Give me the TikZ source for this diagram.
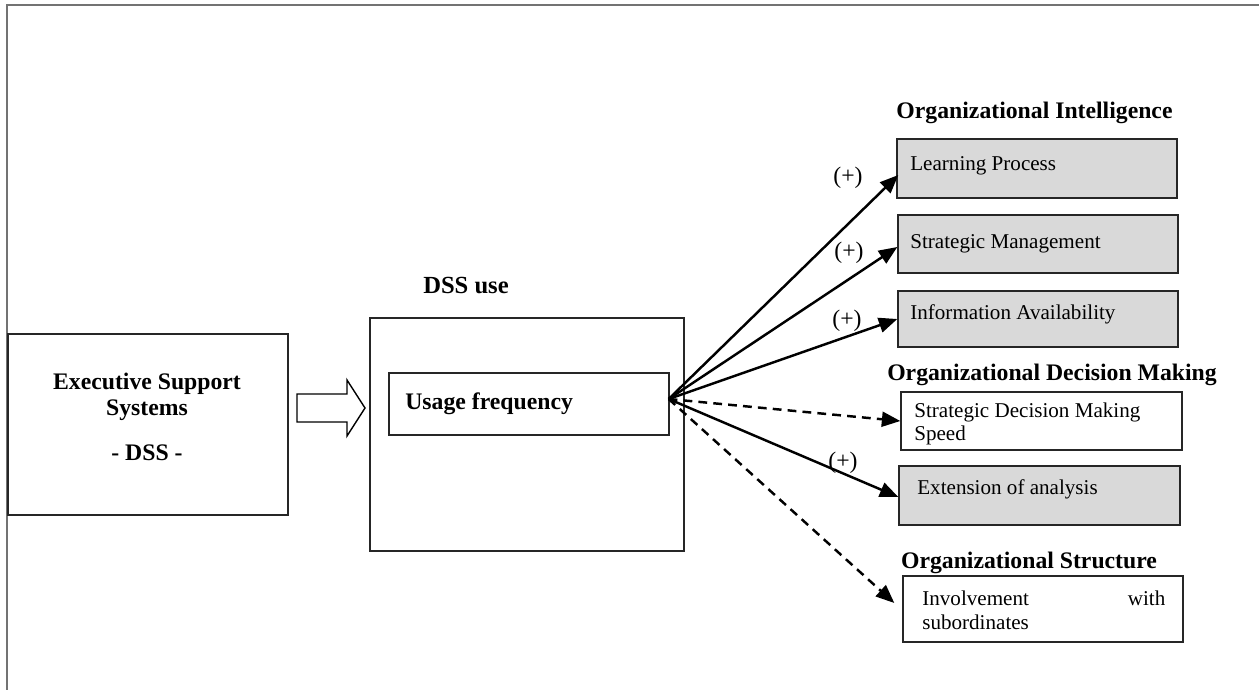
\documentclass[tikz,border=0pt]{standalone}
\usepackage{fontspec}
\setmainfont{Liberation Serif}
\usetikzlibrary{arrows.meta,calc}
\begin{document}
\begin{tikzpicture}[x=0.02cm,y=-0.02cm,
  box/.style={draw=black!85, line width=0.8pt, rectangle, inner sep=0pt},
  graybox/.style={box, fill=black!15},
  rtext/.style={font=\fontsize{12}{13.5}\selectfont, inner sep=0pt, anchor=west, align=left},
  btext/.style={font=\bfseries\fontsize{13.5}{15}\selectfont, inner sep=0pt},
  link/.style={line width=1.4pt, -{Triangle[length=10.5pt,width=8.5pt]}},
  dlink/.style={link, dash pattern=on 5pt off 3.5pt},
  plus/.style={font=\fontsize{13.5}{14}\selectfont, inner sep=0pt}]
\useasboundingbox (0,0) rectangle (1259,690);
% outer frame
\draw[black!55, line width=1.1pt] (7,690) -- (7,5) -- (1259,5);

% left box
\node[box, minimum width=5.6cm, minimum height=3.62cm] (ess) at (148,424.5) {};
\node[btext, align=center] (esst) at (147,417) {Executive Support\\Systems\\[10.5pt]- DSS -};

% hollow arrow
\draw[line width=0.8pt, fill=white] (297,394) -- (347,394) -- (347,380) -- (365,408)
  -- (347,436) -- (347,422) -- (297,422) -- cycle;

% DSS use
\node[btext, font=\bfseries\fontsize{14}{15}\selectfont] (dsst) at (466,286) {DSS use};
\node[box, line width=1.1pt, minimum width=6.28cm, minimum height=4.66cm] (dss) at (527,434.5) {};
\node[box, minimum width=5.6cm, minimum height=1.24cm] (use) at (529,404) {};
\node[btext, anchor=west] (uset) at (405,404) {Usage frequency};

% headers
\node[btext] (oi) at (1034.5,113) {Organizational Intelligence};
\node[btext] (odm) at (1052,375) {Organizational Decision Making};
\node[btext] (os) at (1029,563) {Organizational Structure};

% right boxes
\node[graybox, minimum width=5.6cm, minimum height=1.18cm] (lp) at (1037,168.5) {};
\node[rtext] (lpt) at (910,166) {Learning Process};
\node[graybox, minimum width=5.6cm, minimum height=1.16cm] (sm) at (1038,244) {};
\node[rtext] (smt) at (910,244) {Strategic Management};
\node[graybox, minimum width=5.6cm, minimum height=1.12cm] (ia) at (1038,319) {};
\node[rtext] (iat) at (910,314) {Information Availability};
\node[box, fill=white, minimum width=5.62cm, minimum height=1.16cm] (sdm) at (1041.5,421) {};
\node[rtext] (sdmt) at (914,424) {Strategic Decision Making\\Speed};
\node[graybox, minimum width=5.62cm, minimum height=1.18cm] (ext) at (1039.5,495.5) {};
\node[rtext] (extt) at (917,489) {Extension of analysis};
\node[box, fill=white, minimum width=5.6cm, minimum height=1.32cm] (inv) at (1043,609) {};
\node[rtext, text width=4.86cm] (invt) at (922,610) {Involvement\hfill with\\subordinates};

% connectors
\coordinate (src) at ($(use.east)+(-1,-5)$);
\draw[link] (src) -- ($(lp.west)+(2,6.5)$);
\draw[link] (src) -- ($(sm.west)+(0,3)$);
\draw[link] (src) -- (ia.west);
\draw[dlink] (src) -- (sdm.west);
\draw[link] (src) -- ($(ext.west)+(0,1.5)$);
\draw[dlink] (src) -- ($(inv.west)+(-8,-6)$);

% labels
\node[plus] (p1) at (848,178) {(+)};
\node[plus] (p2) at (849,253) {(+)};
\node[plus] (p3) at (847,321) {(+)};
\node[plus] (p4) at (843,463) {(+)};
\end{tikzpicture}
\end{document}
